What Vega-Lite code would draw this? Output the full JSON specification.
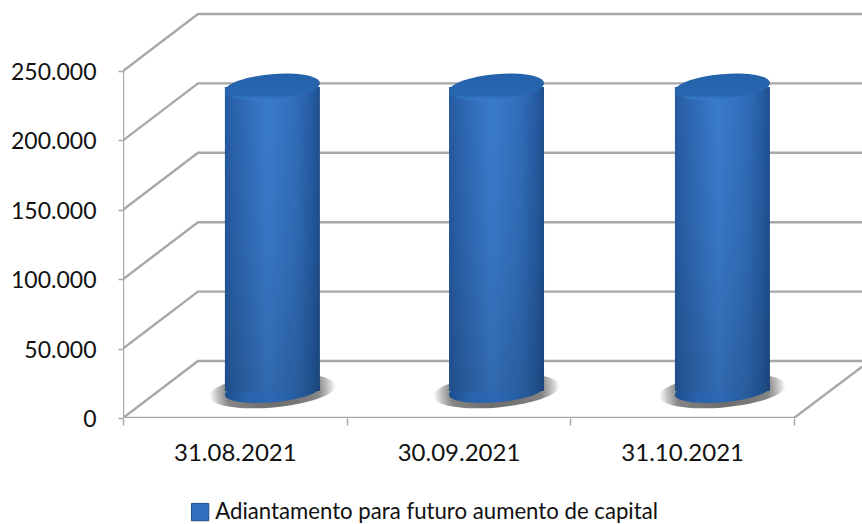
{
"$schema":"https://vega.github.io/schema/vega-lite/v6.json",
"width":739,"height":418,
"autosize":{"type":"none"},
"padding":{"left":123,"top":0,"right":0,"bottom":106},
"background":"white",
"config":{"view":{"stroke":null},"font":"Lato"},
"datasets":{
"grid":[
{"level":"0","x":0,"y":0},{"level":"0","x":0.3353,"y":41066},{"level":"0","x":3.304,"y":41066},
{"level":"50000","x":0,"y":50000},{"level":"50000","x":0.3353,"y":91066},{"level":"50000","x":3.304,"y":91066},
{"level":"100000","x":0,"y":100000},{"level":"100000","x":0.3353,"y":141066},{"level":"100000","x":3.304,"y":141066},
{"level":"150000","x":0,"y":150000},{"level":"150000","x":0.3353,"y":191066},{"level":"150000","x":3.304,"y":191066},
{"level":"200000","x":0,"y":200000},{"level":"200000","x":0.3353,"y":241066},{"level":"200000","x":3.304,"y":241066},
{"level":"250000","x":0,"y":250000},{"level":"250000","x":0.3353,"y":291066},{"level":"250000","x":3.304,"y":291066},
{"level":"floor","x":0,"y":0},{"level":"floor","x":3,"y":0},{"level":"floor","x":3.304,"y":37000},
{"level":"wall","x":0,"y":0},{"level":"wall","x":0,"y":250000}
],
"bars":[
{"date":"31.08.2021","slot":0.668,"base":19500,"top":238500},
{"date":"30.09.2021","slot":1.67,"base":19500,"top":238500},
{"date":"31.10.2021","slot":2.68,"base":19500,"top":238500}
],
"legend":[{"series":"Adiantamento para futuro aumento de capital","slot":1.5,"top":0}]
},
"layer":[
{"data":{"name":"grid"},
 "mark":{"type":"line","stroke":"#a8a8a8","strokeWidth":2.4,"clip":true,"interpolate":"linear"},
 "encoding":{
  "x":{"field":"x","type":"quantitative","scale":{"domain":[0,3.304],"nice":false,"zero":false,"padding":0},"axis":{"orient":"bottom","values":[0,1,2,3],"labels":false,"title":null,"domain":false,"grid":false,"tickColor":"#a8a8a8","tickWidth":1.5,"tickSize":7}},
  "y":{"field":"y","type":"quantitative","scale":{"domain":[0,301153],"nice":false,"zero":false},"axis":{"values":[0,50000,100000,150000,200000,250000],"labelExpr":"replace(format(datum.value,','),',','.')","title":null,"domain":false,"grid":false,"tickColor":"#a8a8a8","tickWidth":1.5,"tickSize":5,"labelPadding":22,"labelOffset":1.5,"labelFont":"Lato","labelFontSize":23,"labelColor":"#111111"}},
  "detail":{"field":"level"}
 }},
{"data":{"name":"bars"},
 "mark":{"type":"point","filled":true,"opacity":1,"size":16000,"shape":"M-1,0.087 A1,0.26 -5 1 1 1,-0.087 A1,0.26 -5 1 1 -1,0.087 Z",
  "fill":{"gradient":"radial","x1":0.5,"y1":0.5,"x2":0.5,"y2":0.5,"r1":0,"r2":0.5,"stops":[{"offset":0,"color":"#666666"},{"offset":0.72,"color":"#858585"},{"offset":0.88,"color":"#c4c4c4"},{"offset":1,"color":"#ffffff"}]}},
 "encoding":{
  "x":{"field":"slot","type":"quantitative","scale":{"domain":[0,3.304],"nice":false,"zero":false,"padding":0},"axis":{"orient":"bottom","values":[0.5,1.5,2.5],"labelExpr":"datum.value==0.5?'31.08.2021':datum.value==1.5?'30.09.2021':'31.10.2021'","title":null,"domain":false,"grid":false,"ticks":false,"labelPadding":23,"labelFont":"Lato","labelFontSize":24,"labelColor":"#111111"}},
  "y":{"field":"base","type":"quantitative","scale":{"domain":[0,301153],"nice":false,"zero":false}}
 }},
{"data":{"name":"bars"},
 "mark":{"type":"point","filled":true,"opacity":1,"size":9025,"shape":"M-1,0.087 A1,0.24 -5 1 1 1,-0.087 A1,0.24 -5 1 1 -1,0.087 Z",
  "fill":{"gradient":"linear","x1":0,"y1":0,"x2":1,"y2":0,"stops":[{"offset":0,"color":"#1d4f90"},{"offset":0.25,"color":"#2a64ad"},{"offset":0.5,"color":"#2c68b3"},{"offset":0.8,"color":"#25599b"},{"offset":1,"color":"#1c487f"}]}},
 "encoding":{"x":{"field":"slot","type":"quantitative","axis":null},"y":{"field":"base","type":"quantitative"}}},
{"data":{"name":"bars"},
 "mark":{"type":"bar","size":95,
  "fill":{"gradient":"linear","x1":0,"y1":0,"x2":1,"y2":0,"stops":[{"offset":0,"color":"#24599f"},{"offset":0.08,"color":"#2a62aa"},{"offset":0.45,"color":"#3a7ccd"},{"offset":0.75,"color":"#316eba"},{"offset":0.93,"color":"#245a9f"},{"offset":1,"color":"#1f4f8e"}]}},
 "encoding":{"x":{"field":"slot","type":"quantitative","axis":null},"y":{"field":"top","type":"quantitative"},"y2":{"field":"base"}}},
{"data":{"name":"bars"},
 "mark":{"type":"bar","size":95,
  "fill":{"gradient":"linear","x1":0,"y1":0,"x2":0,"y2":1,"stops":[{"offset":0,"color":"rgba(0,0,0,0)"},{"offset":0.5,"color":"rgba(0,0,0,0.05)"},{"offset":1,"color":"rgba(0,0,0,0.15)"}]}},
 "encoding":{"x":{"field":"slot","type":"quantitative","axis":null},"y":{"field":"top","type":"quantitative"},"y2":{"field":"base"}}},
{"data":{"name":"bars"},
 "mark":{"type":"point","filled":true,"opacity":1,"size":9025,"shape":"M-1,0.087 A1,0.27 -5 1 1 1,-0.087 A1,0.27 -5 1 1 -1,0.087 Z",
  "fill":{"gradient":"linear","x1":0,"y1":0,"x2":0,"y2":1,"stops":[{"offset":0,"color":"#2462ab"},{"offset":0.8,"color":"#2866b1"},{"offset":0.93,"color":"#3577c6"},{"offset":1,"color":"#3a7ccd"}]}},
 "encoding":{"x":{"field":"slot","type":"quantitative","axis":null},"y":{"field":"top","type":"quantitative"}}},
{"data":{"name":"legend"},
 "mark":{"type":"point","filled":true,"shape":"square","size":1,"opacity":0},
 "encoding":{
  "x":{"field":"slot","type":"quantitative","axis":null},
  "y":{"field":"top","type":"quantitative"},
  "color":{"field":"series","type":"nominal","scale":{"range":["#3270bd"]},
   "legend":{"title":null,"orient":"none","legendX":66,"legendY":501,"symbolType":"square","symbolSize":300,"symbolOpacity":1,"symbolStrokeColor":"#1f4e8c","symbolStrokeWidth":1,"labelFont":"Lato","labelFontSize":22.2,"labelColor":"#111111","labelLimit":600,"labelOffset":4}}
 }}
],
"resolve":{"axis":{"x":"independent"}}
}
